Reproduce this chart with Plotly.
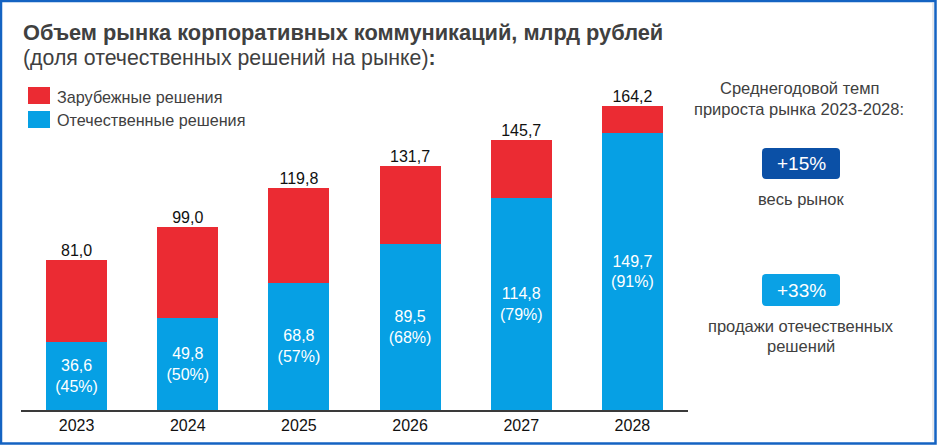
import plotly.graph_objects as go

years = ["2023", "2024", "2025", "2026", "2027", "2028"]
totals = [81.0, 99.0, 119.8, 131.7, 145.7, 164.2]
domestic = [36.6, 49.8, 68.8, 89.5, 114.8, 149.7]
shares = [45, 50, 57, 68, 79, 91]
foreign = [round(t - d, 1) for t, d in zip(totals, domestic)]

RED = "#EB2B33"
BLUE = "#06A0E4"
DARK = "#404040"
FONT = "Liberation Sans, Arial, sans-serif"
W, H = 937, 445

def fmt(v):
    return f"{v:.1f}".replace(".", ",")

fig = go.Figure()
fig.add_trace(go.Bar(
    x=years, y=domestic, name="Отечественные решения", marker_color=BLUE,
    marker_line_width=0, width=0.55,
    text=[f"{fmt(d)}<br>({s}%)" for d, s in zip(domestic, shares)],
    textposition="inside", insidetextanchor="middle",
    textfont=dict(color="white", size=16, family=FONT), showlegend=False,
))
fig.add_trace(go.Bar(
    x=years, y=foreign, name="Зарубежные решения", marker_color=RED,
    marker_line_width=0, width=0.55, showlegend=False,
))
fig.add_trace(go.Scatter(
    x=years, y=totals, mode="text", text=[fmt(t) for t in totals],
    textposition="top center", textfont=dict(color="#111111", size=16, family=FONT),
    showlegend=False, cliponaxis=False,
))

def px(x):
    return x / W

def py(y):
    return 1 - y / H

def rrect(x0, y0, x1, y1, r):
    X = lambda v: f"{px(v):.5f}"
    Y = lambda v: f"{py(v):.5f}"
    return (f"M {X(x0+r)},{Y(y0)} L {X(x1-r)},{Y(y0)} Q {X(x1)},{Y(y0)} {X(x1)},{Y(y0+r)} "
            f"L {X(x1)},{Y(y1-r)} Q {X(x1)},{Y(y1)} {X(x1-r)},{Y(y1)} L {X(x0+r)},{Y(y1)} "
            f"Q {X(x0)},{Y(y1)} {X(x0)},{Y(y1-r)} L {X(x0)},{Y(y0+r)} Q {X(x0)},{Y(y0)} {X(x0+r)},{Y(y0)} Z")

shapes = [
    dict(type="rect", xref="paper", yref="paper", x0=px(1), x1=px(W - 1.5), y0=py(H - 1.5), y1=py(1),
         line=dict(color="#1463C2", width=2.5), fillcolor="rgba(0,0,0,0)"),
    dict(type="line", xref="paper", yref="paper", x0=px(933), x1=px(933), y0=py(440), y1=py(3),
         line=dict(color="#D0D4DA", width=1)),
    dict(type="rect", xref="paper", yref="paper", x0=px(28), x1=px(50), y0=py(104), y1=py(87),
         fillcolor=RED, line_width=0),
    dict(type="rect", xref="paper", yref="paper", x0=px(28), x1=px(50), y0=py(128), y1=py(111),
         fillcolor=BLUE, line_width=0),
    dict(type="path", xref="paper", yref="paper", path=rrect(762, 148, 840, 179, 4),
         fillcolor="#0B50A6", line_width=0),
    dict(type="path", xref="paper", yref="paper", path=rrect(762, 274, 840, 306, 4),
         fillcolor="#0AA1E5", line_width=0),
]

def ann(text, x, y, size, color=DARK, xanchor="left", bold=False):
    return dict(text=f"<b>{text}</b>" if bold else text, x=px(x), y=py(y), xref="paper", yref="paper",
                xanchor=xanchor, yanchor="middle", showarrow=False,
                font=dict(size=size, color=color, family=FONT))

annotations = [
    ann("Объем рынка корпоративных коммуникаций, млрд рублей", 21, 32, 21.8, bold=True),
    ann("(доля отечественных решений на рынке)<b>:</b>", 21, 58, 21.3),
    ann("Зарубежные решения", 55, 97, 16.2),
    ann("Отечественные решения", 55, 120, 16.2),
    ann("Среднегодовой темп", 799, 88, 16.5, xanchor="center"),
    ann("прироста рынка 2023-2028:", 799, 109, 16.5, xanchor="center"),
    ann("+15%", 801, 164, 19, color="white", xanchor="center"),
    ann("весь рынок", 801, 199, 16.5, xanchor="center"),
    ann("+33%", 801, 290, 19, color="white", xanchor="center"),
    ann("продажи отечественных", 801, 326, 16.5, xanchor="center"),
    ann("решений", 801, 346, 16.5, xanchor="center"),
]

fig.update_layout(
    width=W, height=H, barmode="stack",
    margin=dict(l=0, r=0, t=0, b=0),
    paper_bgcolor="white", plot_bgcolor="white",
    font=dict(family=FONT, color=DARK),
    xaxis=dict(domain=[px(21), px(688)], range=[-0.5, 5.5], showgrid=False, zeroline=False,
               showline=True, linecolor="#3a3a3a", linewidth=2, ticks="",
               tickfont=dict(size=16, color="#111111", family=FONT)),
    yaxis=dict(domain=[py(410), py(77)], range=[0, 180], visible=False),
    shapes=shapes, annotations=annotations,
)

fig.write_html("out.html")
